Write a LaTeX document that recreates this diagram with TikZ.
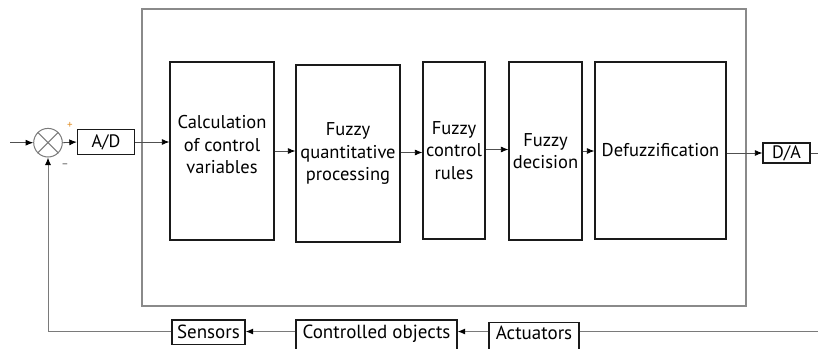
\documentclass[tikz,border=0pt]{standalone}
\usepackage{fontspec}
\setmainfont{PT Sans}
\usetikzlibrary{arrows.meta,calc}
\definecolor{boxc}{HTML}{1A1A1A}
\definecolor{bigc}{HTML}{8A8A8A}
\definecolor{linec}{HTML}{505050}
\definecolor{fbc}{HTML}{7A7A7A}
\definecolor{plusc}{HTML}{E0902A}
\begin{document}
\begin{tikzpicture}[x=1pt,y=-1pt,
  blk/.style={draw=boxc,line width=1.3pt,inner sep=0pt,align=center,
    font=\fontsize{18.5}{22.5}\selectfont},
  txt/.style={inner sep=0pt,align=center,font=\fontsize{18.5}{22.5}\selectfont},
  conv/.style={draw=boxc,line width=1.3pt,inner sep=0pt,
    font=\fontsize{18}{20}\selectfont},
  bot/.style={draw=boxc,line width=1.3pt,inner xsep=0pt,inner ysep=0pt,anchor=north,
    font=\fontsize{19}{22}\selectfont},
  arr/.style={draw=linec,line width=0.8pt,-{Latex[length=7.5pt,width=6pt,color=black]}},
  fb/.style={draw=fbc,line width=1pt},
  fbarr/.style={draw=fbc,line width=1pt,-{Latex[length=7.5pt,width=6pt,color=black]}},
  sign/.style={inner sep=0pt,font=\fontsize{11}{11}\selectfont}]
\useasboundingbox (0,0) rectangle (818,348);
\clip (0,0) rectangle (818,348);

% big enclosing box
\node[draw=bigc,line width=1.2pt,minimum width=604,minimum height=297,inner sep=0pt] (big) at (444,157.5) {};

% summing junction
\node[draw=fbc,line width=1pt,circle,minimum size=28.6,inner sep=0pt] (sum) at (48,142.7) {};
\draw[fbc,line width=1pt] (sum.45) -- (sum.225) (sum.135) -- (sum.315);
\node[sign,text=plusc] (plus) at (70,125) {+};
\node[sign,text=linec] (minus) at (65,166) {--};

% converters
\node[conv,minimum width=57,minimum height=25] (AD) at (106,142) {A/D};
\node[conv,minimum width=47,minimum height=20] (DA) at (786.5,153) {D/A};

% processing blocks
\node[blk,minimum width=104,minimum height=178] (calc) at (222,151) {};
\node[txt] (calct) at (222,145) {Calculation\\of control\\variables};
\node[blk,minimum width=104,minimum height=177] (quant) at (348,153.5) {Fuzzy\\quantitative\\processing};
\node[blk,minimum width=62,minimum height=177] (rules) at (454,150.5) {Fuzzy\\control\\rules};
\node[blk,minimum width=73,minimum height=178] (dec) at (545.5,151) {Fuzzy\\decision};
\node[blk,minimum width=131,minimum height=177] (defz) at (660.5,150.5) {Defuzzification};

% bottom chain
\node[bot,minimum width=73,text height=18.7pt,text depth=6pt] (sens) at (208.5,319.3) {Sensors};
\node[bot,minimum width=161,text height=18.7pt,text depth=16pt] (ctrl) at (376.5,319.3) {Controlled objects};
\node[bot,minimum width=90,text height=17pt,text depth=16pt] (act) at (534,321.5) {Actuators};

% free ends
\coordinate (in) at (10,142.7);
\coordinate (out) at (818,153);
\coordinate (ret) at (818,331.5);

% forward path
\draw[arr] (in) -- (sum.west);
\draw[arr] (sum.east) -- (AD.west);
\draw[arr] (AD.east) -- (AD.east -| calc.west);
\draw[arr] (calc.east) -- (calc.east -| quant.west);
\draw[arr] ($(quant.east)+(0,-1)$) -- ($(quant.east -| rules.west)+(0,-1)$);
\draw[arr] ($(rules.east)+(0,-1)$) -- ($(rules.east -| dec.west)+(0,-1)$);
\draw[arr] (dec.east) -- (dec.east -| defz.west);
\draw[arr] (defz.east |- DA.west) -- (DA.west);
\draw[linec,line width=0.8pt] (DA.east) -- (out);

% feedback path
\draw[fb] (ret) -- (ret -| act.east);
\draw[fbarr] (act.west |- ret) -- (ret -| ctrl.east);
\draw[fbarr] (ctrl.west |- ret) -- (ret -| sens.east);
\draw[fbarr] (ret -| sens.west) -| (sum.south);
\end{tikzpicture}
\end{document}
